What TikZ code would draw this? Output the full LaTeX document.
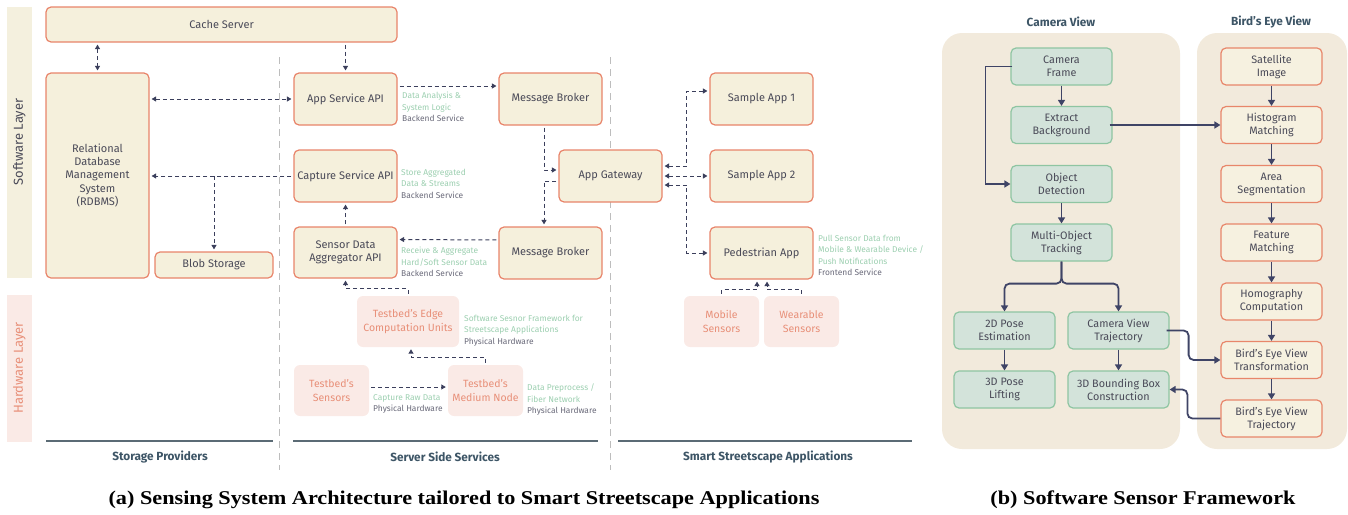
\documentclass[tikz,border=0pt]{standalone}
\usepackage{fontspec}
\setmainfont{Fira Sans}
\newfontfamily\capfont[FakeStretch=1.14]{Liberation Serif}
\usetikzlibrary{arrows.meta,calc}

\definecolor{boxfill}{HTML}{F5F0DC}
\definecolor{boxline}{HTML}{E8846A}
\definecolor{boxtext}{HTML}{4A4A58}
\definecolor{hwfill}{HTML}{FAEAE6}
\definecolor{hwtext}{HTML}{E88F78}
\definecolor{swfill}{HTML}{F4F0DE}
\definecolor{arrowc}{HTML}{3B3F5C}
\definecolor{ngreenc}{HTML}{9CCFB0}
\definecolor{ngrayc}{HTML}{6A6A7A}
\definecolor{sepgray}{HTML}{BDBDBD}
\definecolor{slate}{HTML}{3D5566}
\definecolor{baseline}{HTML}{5B6B75}
\definecolor{panelbg}{HTML}{F2EADC}
\definecolor{gfill}{HTML}{D3E3DA}
\definecolor{gline}{HTML}{8EC5A2}
\definecolor{ofill}{HTML}{F6F1E0}
\definecolor{oline}{HTML}{E8866A}
\definecolor{flowc}{HTML}{3F4466}

\newcommand\ngreen[1]{\textcolor{ngreenc}{#1}}
\newcommand\ngray[1]{\textcolor{ngrayc}{#1}}

\begin{document}
\begin{tikzpicture}[x=1pt,y=-1pt,
  box/.style={draw=boxline, line width=1.2pt, fill=boxfill, rounded corners=5pt,
    text=boxtext, font=\fontsize{11}{13.3}\selectfont, align=center, inner sep=2pt},
  hwbox/.style={fill=hwfill, rounded corners=6pt, text=hwtext,
    font=\fontsize{10.5}{14}\selectfont, align=center, inner sep=2pt},
  note/.style={anchor=north west, align=left, inner sep=0pt,
    font=\fontsize{8.4}{11.3}\selectfont},
  dl/.style={draw=arrowc, line width=1pt, dash pattern=on 4pt off 3pt,
    shorten >=2pt, shorten <=2pt, >={Triangle[length=4.5pt,width=5pt]}},
  sepline/.style={draw=sepgray, line width=0.9pt, dash pattern=on 7pt off 5pt},
  colline/.style={draw=baseline, line width=1.5pt},
  collabel/.style={text=slate, font=\fontsize{11.8}{14}\selectfont\bfseries},
  gbox/.style={draw=gline, line width=1.2pt, fill=gfill, rounded corners=5pt,
    text=boxtext, font=\fontsize{10.8}{13}\selectfont, align=center,
    minimum width=101pt, minimum height=37pt, inner sep=1pt},
  obox/.style={gbox, draw=oline, fill=ofill},
  flow/.style={draw=flowc, line width=1.8pt, >={Triangle[length=6pt,width=7pt]}},
  captext/.style={font=\capfont\bfseries\fontsize{19.5}{22}\selectfont, text=black}
]
\useasboundingbox (0,0) rectangle (1348,514);

% ---------- (a) layer bands ----------
\fill[swfill] (7,7) rectangle (32,278);
\node[rotate=90, text=boxtext, font=\fontsize{13}{15}\selectfont] (swlabel) at (19.5,142) {Software Layer};
\fill[hwfill] (7,295) rectangle (32,442);
\node[rotate=90, text=hwtext, font=\fontsize{13}{15}\selectfont] (hwlabel) at (19.5,368) {Hardware Layer};

% column separators
\draw[sepline] (279,57) -- (279,470);
\draw[sepline] (610,57) -- (610,470);

% ---------- (a) software boxes ----------
\node[box, minimum width=351pt, minimum height=35pt] (cache) at (221.5,24.5) {Cache Server};
\node[box, minimum width=103pt, minimum height=205pt] (rdbms) at (97.5,175.5) {Relational\\Database\\Management\\System\\(RDBMS)};
\node[box, minimum width=118pt, minimum height=26pt] (blob) at (214,265) {Blob Storage};
\node[box, minimum width=103pt, minimum height=52pt] (appsvc) at (345.5,99) {App Service API};
\node[box, minimum width=103pt, minimum height=52pt] (capture) at (345.5,176) {Capture Service API};
\node[box, minimum width=103pt, minimum height=51pt] (sda) at (345.5,252.5) {Sensor Data\\Aggregator API};
\node[box, minimum width=103pt, minimum height=52pt] (mb1) at (550.5,99) {Message Broker};
\node[box, minimum width=103pt, minimum height=52pt] (gateway) at (610.5,176) {App Gateway};
\node[box, minimum width=103pt, minimum height=52pt] (mb2) at (550.5,253) {Message Broker};
\node[box, minimum width=103pt, minimum height=52pt] (sa1) at (761.5,99) {Sample App 1};
\node[box, minimum width=103pt, minimum height=52pt] (sa2) at (761.5,176) {Sample App 2};
\node[box, minimum width=103pt, minimum height=52pt] (ped) at (761.5,253) {Pedestrian App};

% ---------- (a) hardware boxes ----------
\node[hwbox, minimum width=75pt, minimum height=51pt] (mobile) at (721.5,321.5) {Mobile\\Sensors};
\node[hwbox, minimum width=75pt, minimum height=51pt] (wearable) at (801.5,321.5) {Wearable\\Sensors};
\node[hwbox, minimum width=102pt, minimum height=51pt] (edge) at (408,321.5) {Testbed’s Edge\\Computation Units};
\node[hwbox, minimum width=75pt, minimum height=51pt] (tsensors) at (331.5,390.5) {Testbed’s\\Sensors};
\node[hwbox, minimum width=75pt, minimum height=51pt] (medium) at (485.5,390.5) {Testbed’s\\Medium Node};

% ---------- (a) notes ----------
\node[note] (n1) at (402,92) {\ngreen{Data Analysis \&}\\\ngreen{System Logic}\\\ngray{Backend Service}};
\node[note] (n2) at (401,169) {\ngreen{Store Aggregated}\\\ngreen{Data \& Streams}\\\ngray{Backend Service}};
\node[note] (n3) at (401,247) {\ngreen{Receive \& Aggregate}\\\ngreen{Hard/Soft Sensor Data}\\\ngray{Backend Service}};
\node[note] (n4) at (464,315) {\ngreen{Software Sesnor Framework for}\\\ngreen{Streetscape Applications}\\\ngray{Physical Hardware}};
\node[note] (n5) at (373,394) {\ngreen{Capture Raw Data}\\\ngray{Physical Hardware}};
\node[note] (n6) at (527,384) {\ngreen{Data Preprocess /}\\\ngreen{Fiber Network}\\\ngray{Physical Hardware}};
\node[note] (n7) at (818,235) {\ngreen{Pull Sensor Data from}\\\ngreen{Mobile \& Wearable Device /}\\\ngreen{Push Notifications}\\\ngray{Frontend Service}};

% ---------- (a) connectors ----------
\draw[dl,<->] (rdbms.north |- cache.south) -- (rdbms.north);
\draw[dl,->] (appsvc.north |- cache.south) -- (appsvc.north);
\draw[dl,<->] (rdbms.east |- appsvc.west) -- (appsvc.west);
\draw[dl,->] (capture.west) -- (rdbms.east |- capture.west);
\draw[dl,->,shorten <=0pt] (blob.north |- capture.west) -- (blob.north);
\draw[dl,->] (sda.north) -- (capture.south);
\draw[dl,->] ([yshift=13pt]appsvc.east) -- ([yshift=13pt]mb1.west);
\draw[dl,->] ([xshift=-6.5pt]mb1.south) |- ([yshift=6pt]gateway.west);
\draw[dl,->] ([yshift=-5pt]gateway.west) -| ([xshift=-6.5pt]mb2.north);
\draw[dl,->] ([yshift=13pt]mb2.west) -- ([yshift=13pt]sda.east);
\draw[dl,->] (edge.north) -- ++(0,-7) -| (sda.south);
\draw[dl,->] (medium.north) -- ++(0,-7) -| ([xshift=3pt]edge.south);
\draw[dl,->] ([yshift=3.5pt]tsensors.east) -- ([yshift=3.5pt]medium.west);
\draw[dl,<->] ([yshift=10pt]gateway.east) -- ++(24,0) |- ([yshift=8pt]sa1.west);
\draw[dl,<->] (gateway.east) -- (sa2.west);
\draw[dl,<->] ([yshift=-9pt]gateway.east) -- ++(24,0) |- (ped.west);
\draw[dl,->] (mobile.north) -- ++(0,-6) -| ([xshift=-4.5pt]ped.south);
\draw[dl,->] (wearable.north) -- ++(0,-6) -| ([xshift=5.5pt]ped.south);

% ---------- (a) column labels ----------
\draw[colline] (46,441) -- (273,441);
\draw[colline] (293,441) -- (598,441);
\draw[colline] (618,441) -- (912,441);
\node[collabel] (colA) at (160,457) {Storage Providers};
\node[collabel] (colB) at (445,457) {Server Side Services};
\node[collabel] (colC) at (768,457) {Smart Streetscape Applications};

\node[captext] (capA) at (464,500) {(a) Sensing System Architecture tailored to Smart Streetscape Applications};

% ---------- (b) panels ----------
\fill[panelbg, rounded corners=20pt] (942,33) rectangle (1180,449);
\fill[panelbg, rounded corners=20pt] (1197,33) rectangle (1347,449);
\node[collabel] (camtitle) at (1061,22) {Camera View};
\node[collabel] (bevtitle) at (1271,22) {Bird’s Eye View};

% camera view column
\node[gbox] (cf) at (1061.5,66.5) {Camera\\Frame};
\node[gbox] (eb) at (1061.5,125) {Extract\\Background};
\node[gbox] (od) at (1061.5,184) {Object\\Detection};
\node[gbox] (mot) at (1061.5,242.5) {Multi-Object\\Tracking};
\node[gbox] (pose2d) at (1004.5,330.5) {2D Pose\\Estimation};
\node[gbox] (cvt) at (1118.5,330.5) {Camera View\\Trajectory};
\node[gbox] (pose3d) at (1004.5,389.5) {3D Pose\\Lifting};
\node[gbox] (bb) at (1118.5,389.5) {3D Bounding Box\\Construction};

% bird's eye view column
\node[obox] (sat) at (1271.5,66.5) {Satellite\\Image};
\node[obox] (hm) at (1271.5,125) {Histogram\\Matching};
\node[obox] (as) at (1271.5,184) {Area\\Segmentation};
\node[obox] (fm) at (1271.5,242.5) {Feature\\Matching};
\node[obox] (hc) at (1271.5,301.5) {Homography\\Computation};
\node[obox] (bevt) at (1271.5,360) {Bird’s Eye View\\Transformation};
\node[obox] (bevj) at (1271.5,418.5) {Bird’s Eye View\\Trajectory};

% ---------- (b) flow arrows ----------
\draw[flow,->] (cf.south) -- (eb.north);
\draw[flow,->] ([xshift=2pt]cf.west) -- ++(-27,0) |- (od.west);
\draw[flow,->] ([xshift=-3pt]eb.east) -- (hm.west);
\draw[flow,->] (od.south) -- (mot.north);
\draw[flow,->,rounded corners=5pt] (mot.south) -- ++(0,22) -| (pose2d.north);
\draw[flow,->,rounded corners=5pt] (mot.south) -- ++(0,22) -| (cvt.north);
\draw[flow,->] (pose2d.south) -- (pose3d.north);
\draw[flow,->] (cvt.south) -- (bb.north);
\draw[flow,->,rounded corners=5pt] ([xshift=-3pt]cvt.east) -- ++(22,0) |- (bevt.west);
\draw[flow,->,rounded corners=5pt] (bevj.west) -- ++(-33,0) |- (bb.east);
\draw[flow,->] (sat.south) -- (hm.north);
\draw[flow,->] (hm.south) -- (as.north);
\draw[flow,->] (as.south) -- (fm.north);
\draw[flow,->] (fm.south) -- (hc.north);
\draw[flow,->] (hc.south) -- (bevt.north);
\draw[flow,->] (bevt.south) -- (bevj.north);

\node[captext] (capB) at (1143,500) {(b) Software Sensor Framework};
\end{tikzpicture}
\end{document}
